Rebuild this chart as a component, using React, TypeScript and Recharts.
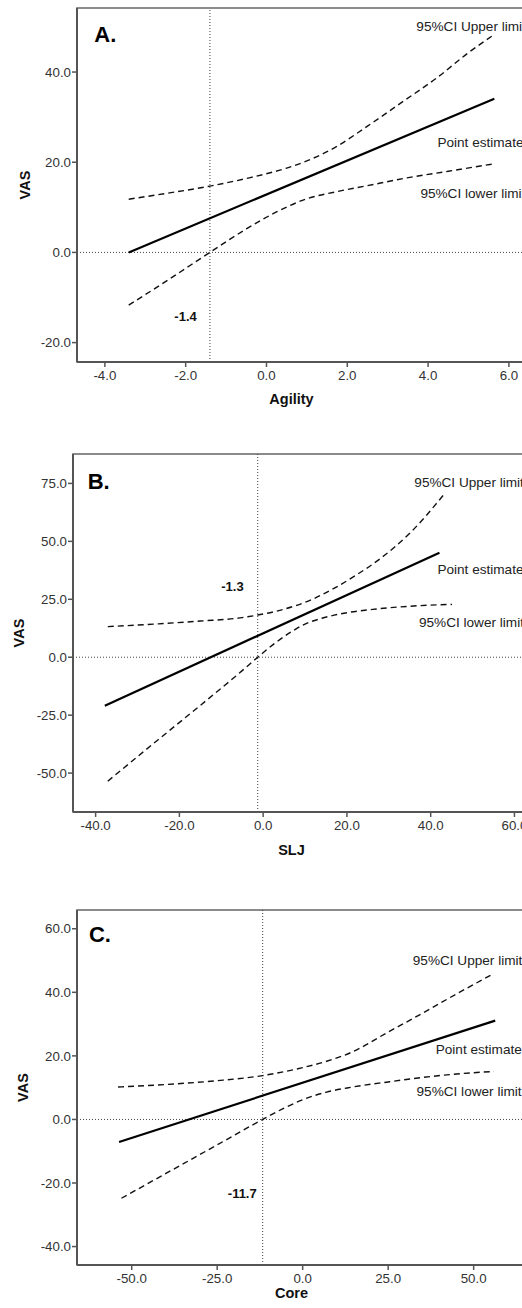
import {
  LineChart,
  Line,
  XAxis,
  YAxis,
  ReferenceLine,
  ReferenceDot,
  ReferenceArea,
} from "recharts";

type Pt = { x: number; y: number };

// A. Agility
const agilityTicks = [-4, -2, 0, 2, 4, 6];
const agilityVasTicks = [-20, 0, 20, 40];
const agilityPoint: Pt[] = [
  { x: -3.41, y: 0 },
  { x: 5.64, y: 34.1 },
];
const agilityUpper: Pt[] = [
  { x: -3.41, y: 11.8 }, { x: -2.4, y: 13.2 }, { x: -1.4, y: 14.7 },
  { x: -0.4, y: 16.6 }, { x: 0.5, y: 18.7 }, { x: 1.0, y: 20.3 },
  { x: 1.7, y: 23.3 }, { x: 2.5, y: 28.0 }, { x: 3.4, y: 33.6 },
  { x: 4.2, y: 38.6 }, { x: 5.0, y: 44.3 }, { x: 5.6, y: 48.1 },
];
const agilityLower: Pt[] = [
  { x: -3.41, y: -11.7 }, { x: -2.4, y: -5.9 }, { x: -1.4, y: 0 },
  { x: -0.5, y: 5.2 }, { x: 0.3, y: 9.2 }, { x: 1.0, y: 11.9 },
  { x: 1.7, y: 13.4 }, { x: 2.5, y: 14.8 }, { x: 3.4, y: 16.4 },
  { x: 4.5, y: 18.0 }, { x: 5.6, y: 19.6 },
];
const agilityCut = -1.4;

// B. SLJ
const sljTicks = [-40, -20, 0, 20, 40, 60];
const sljVasTicks = [-50, -25, 0, 25, 50, 75];
const sljPoint: Pt[] = [
  { x: -37.8, y: -20.9 },
  { x: 42.1, y: 45.1 },
];
const sljUpper: Pt[] = [
  { x: -37.1, y: 13.2 }, { x: -25, y: 14.4 }, { x: -15, y: 15.6 },
  { x: -5, y: 17.1 }, { x: -1.3, y: 18.2 }, { x: 3, y: 19.8 },
  { x: 8, y: 22.4 }, { x: 12, y: 25.2 }, { x: 17, y: 29.8 },
  { x: 22, y: 35.2 }, { x: 28, y: 42.6 }, { x: 35, y: 53.5 },
  { x: 43.2, y: 70.3 },
];
const sljLower: Pt[] = [
  { x: -37.1, y: -53.5 }, { x: -25, y: -35.5 }, { x: -15, y: -20.8 },
  { x: -5, y: -5.8 }, { x: -1.3, y: 0 }, { x: 3, y: 6.3 },
  { x: 7, y: 11.3 }, { x: 10, y: 14.3 }, { x: 14, y: 16.8 },
  { x: 20, y: 19.2 }, { x: 27, y: 20.8 }, { x: 35, y: 22.0 },
  { x: 45.1, y: 22.8 },
];
const sljCut = -1.3;

// C. Core
const coreTicks = [-50, -25, 0, 25, 50];
const coreVasTicks = [-40, -20, 0, 20, 40, 60];
const corePoint: Pt[] = [
  { x: -53.7, y: -7.1 },
  { x: 56.3, y: 31.1 },
];
const coreUpper: Pt[] = [
  { x: -54, y: 10.2 }, { x: -40, y: 11.0 }, { x: -25, y: 12.2 },
  { x: -11.7, y: 13.8 }, { x: 0, y: 16.3 }, { x: 7, y: 18.3 },
  { x: 14, y: 21.0 }, { x: 25, y: 27.5 }, { x: 35, y: 33.4 },
  { x: 45, y: 39.5 }, { x: 55.9, y: 45.9 },
];
const coreLower: Pt[] = [
  { x: -53, y: -24.8 }, { x: -40, y: -17 }, { x: -25, y: -8 },
  { x: -11.7, y: 0 }, { x: -5, y: 3.8 }, { x: 0, y: 6.2 },
  { x: 7, y: 8.6 }, { x: 14, y: 10.1 }, { x: 25, y: 11.8 },
  { x: 35, y: 13.2 }, { x: 45, y: 14.3 }, { x: 55.9, y: 15.1 },
];
const coreCut = -11.7;

const fmt = (v: number) => v.toFixed(1);
const AXIS = "#555";

type Note = { x: number; y: number; text: string };

interface PanelProps {
  top: number;
  height: number;
  marginTop: number;
  yAxisWidth: number;
  xAxisHeight: number;
  xDomain: [number, number];
  yDomain: [number, number];
  xTicks: number[];
  yTicks: number[];
  point: Pt[];
  upper: Pt[];
  lower: Pt[];
  cut: number;
  xTitle: string;
  xTitleOffset: number;
  xTitleDx: number;
  vasLeft: number;
  letter: Note;
  cutNote: Note;
  notes: Note[];
}

const VasLabel = (props: any) => {
  const vb = props.viewBox || { x: 0, y: 0, height: 0 };
  const cx = props.left;
  const cy = vb.y + vb.height / 2;
  return (
    <text
      x={cx}
      y={cy}
      transform={`rotate(-90, ${cx}, ${cy})`}
      textAnchor="middle"
      dominantBaseline="central"
      fontSize={14.5}
      fontWeight="bold"
      fill="#111"
    >
      VAS
    </text>
  );
};

function Panel(p: PanelProps) {
  return (
    <div style={{ position: "absolute", left: 0, top: p.top }}>
      <LineChart
        width={545}
        height={p.height}
        margin={{ top: p.marginTop, right: 5, bottom: 0, left: 0 }}
      >
        <ReferenceArea
          x1={p.xDomain[0]}
          x2={p.xDomain[1]}
          y1={p.yDomain[0]}
          y2={p.yDomain[1]}
          fill="none"
          stroke="#666"
          strokeWidth={1.5}
          ifOverflow="visible"
        />
        <XAxis
          type="number"
          dataKey="x"
          domain={p.xDomain}
          ticks={p.xTicks}
          allowDataOverflow
          interval={0}
          height={p.xAxisHeight}
          tickFormatter={fmt}
          axisLine={{ stroke: AXIS, strokeWidth: 2 }}
          tickLine={{ stroke: AXIS, strokeWidth: 1.5 }}
          tick={{ fill: "#333", fontSize: 13.3 }}
          tickSize={5}
          tickMargin={4}
          label={{
            value: p.xTitle,
            position: "insideBottom",
            offset: p.xTitleOffset,
            dx: p.xTitleDx,
            fontSize: 14.5,
            fontWeight: "bold",
            fill: "#111",
          }}
        />
        <YAxis
          type="number"
          domain={p.yDomain}
          ticks={p.yTicks}
          allowDataOverflow
          interval={0}
          width={p.yAxisWidth}
          tickFormatter={fmt}
          axisLine={{ stroke: AXIS, strokeWidth: 2 }}
          tickLine={{ stroke: AXIS, strokeWidth: 1.5 }}
          tick={{ fill: "#333", fontSize: 13.3 }}
          tickSize={5}
          tickMargin={1}
          label={<VasLabel left={p.vasLeft} />}
        />
        <ReferenceLine y={0} stroke="#444" strokeDasharray="1 2" />
        <ReferenceLine x={p.cut} stroke="#444" strokeDasharray="1 2" />
        <Line
          data={p.upper}
          dataKey="y"
          type="monotone"
          stroke="#111"
          strokeWidth={1.4}
          strokeDasharray="6 4"
          dot={false}
          activeDot={false}
          isAnimationActive={false}
        />
        <Line
          data={p.lower}
          dataKey="y"
          type="monotone"
          stroke="#111"
          strokeWidth={1.4}
          strokeDasharray="6 4"
          dot={false}
          activeDot={false}
          isAnimationActive={false}
        />
        <Line
          data={p.point}
          dataKey="y"
          type="linear"
          stroke="#000"
          strokeWidth={2.2}
          dot={false}
          activeDot={false}
          isAnimationActive={false}
        />
        <ReferenceDot
          x={p.letter.x}
          y={p.letter.y}
          r={0}
          fill="none"
          stroke="none"
          label={{
            value: p.letter.text,
            position: "right",
            offset: 0,
            fontSize: 22,
            fontWeight: "bold",
            fill: "#000",
          }}
        />
        <ReferenceDot
          x={p.cutNote.x}
          y={p.cutNote.y}
          r={0}
          fill="none"
          stroke="none"
          label={{
            value: p.cutNote.text,
            position: "right",
            offset: 0,
            fontSize: 13,
            fontWeight: "bold",
            fill: "#111",
          }}
        />
        {p.notes.map((n) => (
          <ReferenceDot
            key={n.text}
            x={n.x}
            y={n.y}
            r={0}
            fill="none"
            stroke="none"
            label={{
              value: n.text,
              position: "right",
              offset: 0,
              fontSize: 13.6,
              fill: "#222",
            }}
          />
        ))}
      </LineChart>
    </div>
  );
}

export default function App() {
  return (
    <div
      style={{
        position: "absolute",
        left: 0,
        top: 0,
        width: 522,
        height: 1308,
        overflow: "hidden",
        background: "#fff",
        fontFamily: "'Liberation Sans', Arial, sans-serif",
      }}
    >
      <Panel
        top={0}
        height={407}
        marginTop={8}
        yAxisWidth={77}
        xAxisHeight={45}
        xDomain={[-4.69, 6.77]}
        yDomain={[-24.3, 54.2]}
        xTicks={agilityTicks}
        yTicks={agilityVasTicks}
        point={agilityPoint}
        upper={agilityUpper}
        lower={agilityLower}
        cut={agilityCut}
        xTitle="Agility"
        xTitleOffset={3}
        xTitleDx={-17}
        vasLeft={25}
        letter={{ x: -4.26, y: 48.3, text: "A." }}
        cutNote={{ x: -2.28, y: -14.2, text: "-1.4" }}
        notes={[
          { x: 3.71, y: 50.1, text: "95%CI Upper limit" },
          { x: 4.23, y: 24.5, text: "Point estimate" },
          { x: 3.81, y: 13.2, text: "95%CI lower limit" },
        ]}
      />
      <Panel
        top={440}
        height={417}
        marginTop={14}
        yAxisWidth={73}
        xAxisHeight={45}
        xDomain={[-45.4, 66.1]}
        yDomain={[-66.8, 87.7]}
        xTicks={sljTicks}
        yTicks={sljVasTicks}
        point={sljPoint}
        upper={sljUpper}
        lower={sljLower}
        cut={sljCut}
        xTitle="SLJ"
        xTitleOffset={2}
        xTitleDx={-15}
        vasLeft={19}
        letter={{ x: -41.9, y: 76.0, text: "B." }}
        cutNote={{ x: -10.0, y: 30.7, text: "-1.3" }}
        notes={[
          { x: 36.1, y: 75.6, text: "95%CI Upper limit" },
          { x: 41.6, y: 37.9, text: "Point estimate" },
          { x: 37.2, y: 15.1, text: "95%CI lower limit" },
        ]}
      />
      <Panel
        top={880}
        height={428}
        marginTop={30}
        yAxisWidth={77}
        xAxisHeight={43}
        xDomain={[-66.0, 69.4]}
        yDomain={[-45.8, 65.9]}
        xTicks={coreTicks}
        yTicks={coreVasTicks}
        point={corePoint}
        upper={coreUpper}
        lower={coreLower}
        cut={coreCut}
        xTitle="Core"
        xTitleOffset={10}
        xTitleDx={-17}
        vasLeft={23}
        letter={{ x: -62.5, y: 58.2, text: "C." }}
        cutNote={{ x: -21.9, y: -23.3, text: "-11.7" }}
        notes={[
          { x: 32.2, y: 50.0, text: "95%CI Upper limit" },
          { x: 38.9, y: 22.2, text: "Point estimate" },
          { x: 33.3, y: 8.9, text: "95%CI lower limit" },
        ]}
      />
    </div>
  );
}
